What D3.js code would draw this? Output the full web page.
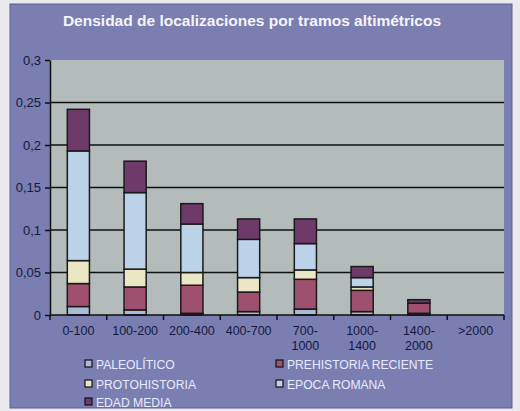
<!DOCTYPE html>
<html><head><meta charset="utf-8">
<script src="https://cdnjs.cloudflare.com/ajax/libs/d3/7.8.5/d3.min.js"></script>
<style>html,body{margin:0;padding:0;background:#e9e9ee;}svg{display:block;}</style>
</head><body>
<script>
const categories = ["0-100","100-200","200-400","400-700","700-1000","1000-1400","1400-2000",">2000"];
const catLines = [["0-100"],["100-200"],["200-400"],["400-700"],["700-","1000"],["1000-","1400"],["1400-","2000"],[">2000"]];
const seriesNames = ["PALEOLÍTICO","PREHISTORIA RECIENTE","PROTOHISTORIA","EPOCA ROMANA","EDAD MEDIA"];
const paleolitico = [0.010,0.006,0.002,0.004,0.007,0.004,0.002,0];
const prehistoria = [0.027,0.027,0.033,0.023,0.035,0.025,0.012,0];
const protohistoria = [0.027,0.021,0.015,0.017,0.011,0.004,0,0];
const romana = [0.129,0.090,0.057,0.045,0.031,0.011,0,0];
const edadMedia = [0.049,0.037,0.024,0.024,0.029,0.013,0.004,0];
const yTicks = [0,0.05,0.1,0.15,0.2,0.25,0.3];
const yTickLabels = ["0","0,05","0,1","0,15","0,2","0,25","0,3"];
const colors = ["#aab9d6","#a0506f","#ebe6c4","#bcd2e8","#6e3a6a"];

const W=520,H=411;
const svg=d3.select("body").append("svg").attr("width",W).attr("height",H);
svg.append("rect").attr("x",10).attr("y",4).attr("width",502).attr("height",404)
  .attr("fill","#7b7eb0").attr("stroke","#5c5e8c").attr("stroke-width",1);
svg.append("text").attr("x",252).attr("y",26).attr("text-anchor","middle")
  .attr("font-family","Liberation Sans, Arial, sans-serif").attr("font-weight","bold")
  .attr("font-size",15.5).attr("fill","#f4f4fa").text("Densidad de localizaciones por tramos altimétricos");

const x=d3.scaleBand().domain(categories).range([50,504]).paddingInner(0).paddingOuter(0);
const y=d3.scaleLinear().domain([0,0.3]).range([315,60]);

svg.append("rect").attr("x",50).attr("y",y(0.3)).attr("width",454).attr("height",y(0)-y(0.3)).attr("fill","#b3bbbb");
svg.append("g").selectAll("line").data(yTicks.filter(d=>d>0&&d<0.3)).join("line")
  .attr("x1",50).attr("x2",504).attr("y1",d=>y(d)).attr("y2",d=>y(d))
  .attr("stroke","#111").attr("stroke-width",1.6);

const data=categories.map((c,i)=>({cat:c,v:[paleolitico[i],prehistoria[i],protohistoria[i],romana[i],edadMedia[i]]}));
const stack=d3.stack().keys([0,1,2,3,4]).value((d,k)=>d.v[k]);
const layers=stack(data);
const bw=x.bandwidth()*0.39;
svg.append("g").selectAll("g").data(layers).join("g").attr("fill",(d,i)=>colors[i])
  .selectAll("rect").data(d=>d.filter(s=>s[1]-s[0]>0)).join("rect")
  .attr("x",d=>x(d.data.cat)+x.bandwidth()/2-bw/2).attr("width",bw)
  .attr("y",d=>y(d[1])).attr("height",d=>y(d[0])-y(d[1]))
  .attr("stroke","#1a1a1a").attr("stroke-width",1.5);

const yAxis=d3.axisLeft(y).tickValues(yTicks).tickFormat((d,i)=>yTickLabels[i]).tickSize(5).tickSizeOuter(0);
const gy=svg.append("g").attr("transform","translate(50,0)").call(yAxis);
gy.selectAll("text").attr("font-family","Liberation Sans, Arial, sans-serif").attr("font-size",13).attr("fill","#15183f").attr("dx","-1");
gy.selectAll("line,path").attr("stroke","#111").attr("stroke-width",1.5);

const xb=d3.scaleLinear().domain([0,categories.length]).range([50,504]);
const gx=svg.append("g");
gx.append("line").attr("x1",50).attr("x2",504).attr("y1",315).attr("y2",315).attr("stroke","#111").attr("stroke-width",1.5);
gx.selectAll("line.t").data(d3.range(categories.length+1)).join("line").attr("class","t")
  .attr("x1",d=>xb(d)).attr("x2",d=>xb(d)).attr("y1",315).attr("y2",320).attr("stroke","#111").attr("stroke-width",1.5);
const lblData=[];
categories.forEach((c,i)=>catLines[i].forEach((s,j)=>lblData.push({c,s,j})));
gx.selectAll("text").data(lblData).join("text")
  .attr("x",d=>x(d.c)+x.bandwidth()/2).attr("y",d=>335+d.j*15).attr("text-anchor","middle")
  .attr("font-family","Liberation Sans, Arial, sans-serif").attr("font-size",12.5).attr("fill","#15183f")
  .text(d=>d.s);

const legPos=[[85,364],[276,364],[85,384],[276,384],[85,402]];
const leg=svg.append("g").selectAll("g").data(seriesNames).join("g")
  .attr("transform",(d,i)=>`translate(${legPos[i][0]},${legPos[i][1]})`);
leg.append("rect").attr("x",0).attr("y",-4).attr("width",7).attr("height",7)
  .attr("fill",(d,i)=>colors[i]).attr("stroke","#111").attr("stroke-width",1.2);
leg.append("text").attr("x",11).attr("y",4.5).attr("font-family","Liberation Sans Narrow, Liberation Sans, Arial, sans-serif")
  .attr("font-size",13.5).attr("fill","#e6ecff").attr("transform","translate(11,0) scale(0.9,1) translate(-11,0)").text(d=>d);
</script>
</body></html>
